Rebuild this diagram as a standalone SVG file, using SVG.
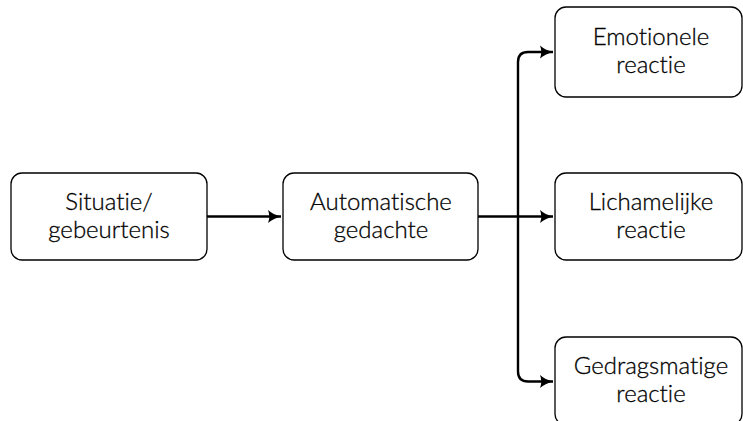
<svg xmlns="http://www.w3.org/2000/svg" width="743" height="421" viewBox="0 0 743 421">
<defs>
<style>
.box{fill:#fff;stroke:#000;stroke-width:1.3}
.t{font-family:Lato,"Open Sans",sans-serif;font-size:24px;font-weight:300;fill:#000;stroke:#000;stroke-width:0.3;text-anchor:middle;font-variant-ligatures:none;font-feature-settings:"liga" 0}
.c{fill:none;stroke:#000;stroke-width:2.4}
</style>
<marker id="ah" viewBox="0 0 14 14" refX="13" refY="7" markerWidth="14" markerHeight="14" markerUnits="userSpaceOnUse" orient="auto">
<path d="M0,0.5 Q5,5 13,7 Q5,9 0,13.5 Q2.5,7 0,0.5Z" fill="#000"/>
</marker>
</defs>
<g id="connectors">
<path class="c" d="M207,216.5 H281" marker-end="url(#ah)"/>
<path class="c" d="M478,216.5 H553" marker-end="url(#ah)"/>
<path class="c" d="M518,216.5 V62 Q518,52 528,52 H553" marker-end="url(#ah)"/>
<path class="c" d="M518,216.5 V371.5 Q518,381.5 528,381.5 H553" marker-end="url(#ah)"/>
</g>
<g id="situatie">
<rect class="box" x="11" y="173" width="196" height="87" rx="11"/>
<text class="t" x="109" y="209.5">Situatie/</text>
<text class="t" x="109" y="237.5">gebeurtenis</text>
</g>
<g id="automatische">
<rect class="box" x="283" y="173" width="195" height="87" rx="11"/>
<text class="t" x="381" y="209.5">Automatische</text>
<text class="t" x="381" y="237.5">gedachte</text>
</g>
<g id="emotionele">
<rect class="box" x="555" y="7" width="187" height="90" rx="11"/>
<text class="t" x="651" y="45">Emotionele</text>
<text class="t" x="651" y="73">reactie</text>
</g>
<g id="lichamelijke">
<rect class="box" x="555" y="173" width="187" height="87" rx="11"/>
<text class="t" x="651" y="209.5">Lichamelijke</text>
<text class="t" x="651" y="237.5">reactie</text>
</g>
<g id="gedragsmatige">
<rect class="box" x="555" y="337" width="187" height="88" rx="11"/>
<text class="t" x="651" y="374">Gedragsmatige</text>
<text class="t" x="651" y="402">reactie</text>
</g>
</svg>
